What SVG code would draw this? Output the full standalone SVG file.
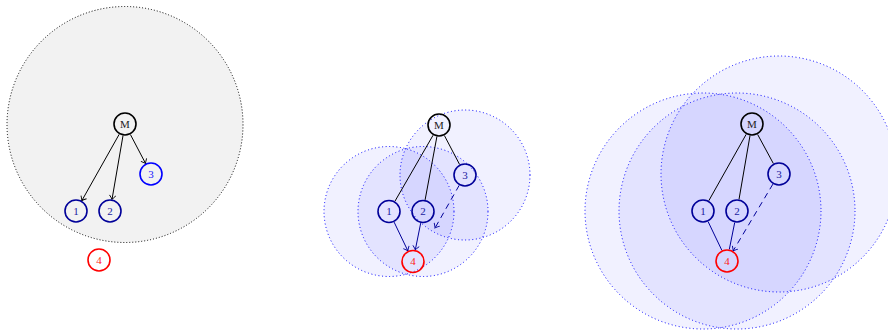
<svg xmlns="http://www.w3.org/2000/svg" width="888" height="331" viewBox="0 0 888 331">
  <style>
    .node { fill: none; stroke-width: 1.6; }
    .m { stroke: #000000; }
    .dk { stroke: #000099; }
    .bl { stroke: #0000ff; }
    .rd { stroke: #ff0000; }
    .lbl { font-family: "Liberation Serif", "DejaVu Serif", serif; font-size: 11px; text-anchor: middle; }
    .tm { fill: #222222; }
    .tdk { fill: #1a1aa0; }
    .tbl { fill: #2020ff; }
    .trd { fill: #ff2020; }
    .range { fill: #0000ff; fill-opacity: 0.055; stroke: #0000ff; stroke-width: 1; stroke-dasharray: 1 2.6; }
    .hull { fill: #f2f2f2; stroke: #000000; stroke-width: 1; stroke-dasharray: 1 2; }
    .e { fill: none; stroke-width: 1; }
    .eb { stroke: #000000; }
    .ed { stroke: #000099; }
    .dash { stroke-dasharray: 6 4.5; }
  </style>
  <defs>
    <marker id="arrK" markerUnits="userSpaceOnUse" markerWidth="10" markerHeight="10" viewBox="-5 -5 10 10" refX="0" refY="0" orient="auto">
      <path d="M -4 -3.2 Q -1.2 -0.6 0 0 Q -1.2 0.6 -4 3.2" fill="none" stroke="#000000" stroke-width="0.9"/>
    </marker>
    <marker id="arrB" markerUnits="userSpaceOnUse" markerWidth="10" markerHeight="10" viewBox="-5 -5 10 10" refX="0" refY="0" orient="auto">
      <path d="M -4 -3.2 Q -1.2 -0.6 0 0 Q -1.2 0.6 -4 3.2" fill="none" stroke="#000099" stroke-width="0.9"/>
    </marker>
  </defs>

  <!-- shaded ranges -->
  <g id="regions">
    <circle class="hull" cx="125" cy="124.5" r="118"/>
    <circle class="range" cx="389" cy="211.5" r="65"/>
    <circle class="range" cx="423" cy="211.5" r="65"/>
    <circle class="range" cx="465" cy="175" r="65"/>
    <circle class="range" cx="703" cy="211" r="118"/>
    <circle class="range" cx="737" cy="211" r="118"/>
    <circle class="range" cx="779" cy="174" r="118"/>
  </g>

  <!-- connectors -->
  <g id="connectors">
    <!-- left -->
    <line class="e eb" x1="119.2" y1="134.3" x2="81.8" y2="200.7" marker-end="url(#arrK)"/>
    <line class="e eb" x1="123.0" y1="135.6" x2="112.0" y2="199.4" marker-end="url(#arrK)"/>
    <line class="e eb" x1="130.4" y1="134.5" x2="145.6" y2="163.5" marker-end="url(#arrK)"/>
    <!-- middle -->
    <line class="e eb" x1="433.1" y1="135.2" x2="394.9" y2="201.3"/>
    <line class="e eb" x1="436.9" y1="136.6" x2="425.1" y2="199.9"/>
    <line class="e eb" x1="444.4" y1="135.5" x2="459.6" y2="164.5"/>
    <line class="e ed" x1="394.1" y1="222.1" x2="407.9" y2="250.9" marker-end="url(#arrB)"/>
    <line class="e ed" x1="420.7" y1="223.1" x2="415.3" y2="249.9" marker-end="url(#arrB)"/>
    <line class="e ed dash" x1="459.2" y1="185.3" x2="435" y2="228" marker-end="url(#arrB)"/>
    <!-- right -->
    <line class="e eb" x1="746.2" y1="134.3" x2="708.8" y2="200.7"/>
    <line class="e eb" x1="750.0" y1="135.6" x2="739.0" y2="199.4"/>
    <line class="e eb" x1="757.6" y1="134.4" x2="773.4" y2="163.6"/>
    <line class="e ed" x1="708.1" y1="221.6" x2="721.9" y2="250.4"/>
    <line class="e ed" x1="734.7" y1="222.6" x2="729.3" y2="249.4"/>
    <line class="e ed dash" x1="772.9" y1="184.1" x2="733.1" y2="250.9" marker-end="url(#arrB)"/>
  </g>

  <!-- left panel nodes -->
  <g id="a-M"><circle class="node m" cx="125" cy="124" r="11"/><text class="lbl tm" x="125" y="127.8">M</text></g>
  <g id="a-1"><circle class="node dk" cx="76" cy="211" r="11"/><text class="lbl tdk" x="76" y="214.8">1</text></g>
  <g id="a-2"><circle class="node dk" cx="110" cy="211" r="11"/><text class="lbl tdk" x="110" y="214.8">2</text></g>
  <g id="a-3"><circle class="node bl" cx="151" cy="174" r="11"/><text class="lbl tbl" x="151" y="177.8">3</text></g>
  <g id="a-4"><circle class="node rd" cx="99" cy="260" r="11"/><text class="lbl trd" x="99" y="263.8">4</text></g>

  <!-- middle panel nodes -->
  <g id="b-M"><circle class="node m" cx="439" cy="125" r="11"/><text class="lbl tm" x="439" y="128.8">M</text></g>
  <g id="b-1"><circle class="node dk" cx="389" cy="211.5" r="11"/><text class="lbl tdk" x="389" y="215.3">1</text></g>
  <g id="b-2"><circle class="node dk" cx="423" cy="211.5" r="11"/><text class="lbl tdk" x="423" y="215.3">2</text></g>
  <g id="b-3"><circle class="node dk" cx="465" cy="175" r="11"/><text class="lbl tdk" x="465" y="178.8">3</text></g>
  <g id="b-4"><circle class="node rd" cx="413" cy="261.5" r="11"/><text class="lbl trd" x="413" y="265.3">4</text></g>

  <!-- right panel nodes -->
  <g id="c-M"><circle class="node m" cx="752" cy="124" r="11"/><text class="lbl tm" x="752" y="127.8">M</text></g>
  <g id="c-1"><circle class="node dk" cx="703" cy="211" r="11"/><text class="lbl tdk" x="703" y="214.8">1</text></g>
  <g id="c-2"><circle class="node dk" cx="737" cy="211" r="11"/><text class="lbl tdk" x="737" y="214.8">2</text></g>
  <g id="c-3"><circle class="node dk" cx="779" cy="174" r="11"/><text class="lbl tdk" x="779" y="177.8">3</text></g>
  <g id="c-4"><circle class="node rd" cx="727" cy="261" r="11"/><text class="lbl trd" x="727" y="264.8">4</text></g>
</svg>
